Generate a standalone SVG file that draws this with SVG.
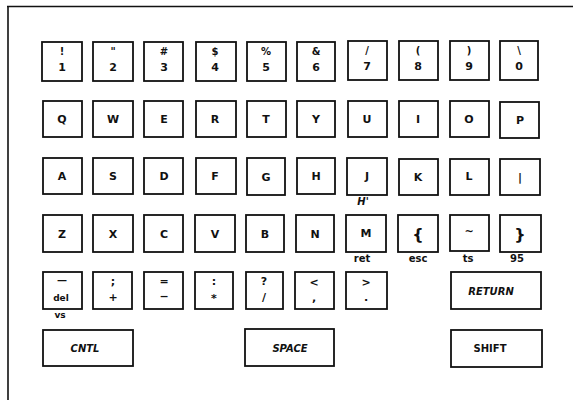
<svg xmlns="http://www.w3.org/2000/svg" width="573" height="400" viewBox="0 0 573 400">
<style>
.k{fill:#fff;stroke:#111;stroke-width:1.8}
text{font-family:"DejaVu Sans","Liberation Sans",sans-serif;font-size:10px;font-weight:bold;fill:#111;text-anchor:middle}
.b{font-size:11px}
.s{font-size:9px}
.i{font-style:italic}
</style>
<rect width="573" height="400" fill="#fff"/>
<g id="frame"><path d="M7 6.5H573M8 6V400" stroke="#111" stroke-width="1.6" fill="none"/></g>
<!-- Row 1 -->
<g id="k1"><rect class="k" x="42" y="42" width="40" height="39"/><text x="62" y="55">!</text><text x="62" y="71" class="b">1</text></g>
<g id="k2"><rect class="k" x="93" y="42" width="40" height="39"/><text x="113" y="55">"</text><text x="113" y="71" class="b">2</text></g>
<g id="k3"><rect class="k" x="144" y="42" width="39" height="39"/><text x="164" y="55">#</text><text x="164" y="71" class="b">3</text></g>
<g id="k4"><rect class="k" x="196" y="42" width="40" height="39"/><text x="215" y="55">$</text><text x="215" y="71" class="b">4</text></g>
<g id="k5"><rect class="k" x="247" y="42" width="39" height="39"/><text x="266" y="55">%</text><text x="266" y="71" class="b">5</text></g>
<g id="k6"><rect class="k" x="297" y="42" width="38" height="39"/><text x="316" y="55">&amp;</text><text x="316" y="71" class="b">6</text></g>
<g id="k7"><rect class="k" x="348" y="41" width="39" height="39"/><text x="367" y="54">/</text><text x="367" y="70" class="b">7</text></g>
<g id="k8"><rect class="k" x="399" y="41" width="39" height="39"/><text x="418" y="54">(</text><text x="418" y="70" class="b">8</text></g>
<g id="k9"><rect class="k" x="450" y="41" width="39" height="39"/><text x="469" y="54">)</text><text x="469" y="70" class="b">9</text></g>
<g id="k0"><rect class="k" x="500" y="41" width="38" height="39"/><text x="519" y="54">\</text><text x="519" y="70" class="b">0</text></g>
<!-- Row 2 -->
<g id="kQ"><rect class="k" x="43" y="101" width="39" height="36"/><text x="62" y="123" class="b">Q</text></g>
<g id="kW"><rect class="k" x="93" y="101" width="40" height="36"/><text x="113" y="123" class="b">W</text></g>
<g id="kE"><rect class="k" x="144" y="101" width="39" height="36"/><text x="164" y="123" class="b">E</text></g>
<g id="kR"><rect class="k" x="196" y="101" width="40" height="36"/><text x="215" y="123" class="b">R</text></g>
<g id="kT"><rect class="k" x="247" y="101" width="39" height="36"/><text x="266" y="123" class="b">T</text></g>
<g id="kY"><rect class="k" x="297" y="101" width="38" height="36"/><text x="316" y="123" class="b">Y</text></g>
<g id="kU"><rect class="k" x="348" y="101" width="39" height="36"/><text x="367" y="123" class="b">U</text></g>
<g id="kI"><rect class="k" x="399" y="101" width="39" height="36"/><text x="418" y="123" class="b">I</text></g>
<g id="kO"><rect class="k" x="450" y="101" width="39" height="36"/><text x="469" y="123" class="b">O</text></g>
<g id="kP"><rect class="k" x="500" y="102" width="39" height="36"/><text x="520" y="124" class="b">P</text></g>
<!-- Row 3 -->
<g id="kA"><rect class="k" x="43" y="158" width="39" height="36"/><text x="62" y="180" class="b">A</text></g>
<g id="kS"><rect class="k" x="93" y="158" width="40" height="36"/><text x="113" y="180" class="b">S</text></g>
<g id="kD"><rect class="k" x="144" y="158" width="39" height="36"/><text x="164" y="180" class="b">D</text></g>
<g id="kF"><rect class="k" x="196" y="158" width="40" height="36"/><text x="215" y="180" class="b">F</text></g>
<g id="kG"><rect class="k" x="247" y="158" width="38" height="37"/><text x="266" y="181" class="b">G</text></g>
<g id="kH"><rect class="k" x="297" y="158" width="38" height="36"/><text x="316" y="180" class="b">H</text></g>
<g id="kJ"><rect class="k" x="347" y="158" width="40" height="37"/><text x="367" y="180" class="b">J</text><text x="363" y="205" class="i">H'</text></g>
<g id="kK"><rect class="k" x="399" y="159" width="39" height="36"/><text x="418" y="181" class="b">K</text></g>
<g id="kL"><rect class="k" x="450" y="159" width="39" height="36"/><text x="469" y="180" class="b">L</text></g>
<g id="kBar"><rect class="k" x="500" y="159" width="40" height="36"/><text x="520" y="181" class="b">|</text></g>
<!-- Row 4 -->
<g id="kZ"><rect class="k" x="43" y="215" width="39" height="37"/><text x="62" y="238" class="b">Z</text></g>
<g id="kX"><rect class="k" x="93" y="215" width="40" height="37"/><text x="113" y="238" class="b">X</text></g>
<g id="kC"><rect class="k" x="144" y="215" width="39" height="37"/><text x="164" y="238" class="b">C</text></g>
<g id="kV"><rect class="k" x="195" y="215" width="40" height="37"/><text x="215" y="238" class="b">V</text></g>
<g id="kB"><rect class="k" x="246" y="215" width="38" height="37"/><text x="265" y="238" class="b">B</text></g>
<g id="kN"><rect class="k" x="296" y="215" width="38" height="37"/><text x="315" y="238" class="b">N</text></g>
<g id="kM"><rect class="k" x="346" y="215" width="40" height="37"/><text x="366" y="237" class="b">M</text><text x="362" y="262">ret</text></g>
<g id="kLb"><rect class="k" x="398" y="215" width="40" height="37"/><text x="418" y="240" class="b" style="font-size:16px">{</text><text x="418" y="262">esc</text></g>
<g id="kTl"><rect class="k" x="450" y="215" width="39" height="36"/><text x="469" y="235" class="b">~</text><text x="468" y="262">ts</text></g>
<g id="kRb"><rect class="k" x="500" y="215" width="41" height="37"/><text x="520" y="240" class="b" style="font-size:16px">}</text><text x="517" y="262">95</text></g>
<!-- Row 5 -->
<g id="kDel"><rect class="k" x="43" y="272" width="39" height="37"/><text x="62" y="284">—</text><text x="61" y="301" class="s">del</text><text x="60" y="318" class="s">vs</text></g>
<g id="kSemi"><rect class="k" x="93" y="272" width="39" height="37"/><text x="113" y="285" class="b">;</text><text x="113" y="301" class="b">+</text></g>
<g id="kEq"><rect class="k" x="144" y="272" width="39" height="37"/><text x="164" y="285" class="b">=</text><text x="164" y="300" class="b">−</text></g>
<g id="kColon"><rect class="k" x="195" y="272" width="38" height="37"/><text x="214" y="285" class="b">:</text><text x="214" y="302" class="b">*</text></g>
<g id="kQm"><rect class="k" x="246" y="272" width="37" height="37"/><text x="264" y="285" class="b">?</text><text x="264" y="301" class="b">/</text></g>
<g id="kLt"><rect class="k" x="295" y="272" width="39" height="37"/><text x="314" y="286" class="b">&lt;</text><text x="314" y="301" class="b">,</text></g>
<g id="kGt"><rect class="k" x="346" y="272" width="41" height="37"/><text x="366" y="286" class="b">&gt;</text><text x="366" y="301" class="b">.</text></g>
<g id="kReturn"><rect class="k" x="451" y="272" width="90" height="37"/><text x="491" y="295" class="i">RETURN</text></g>
<!-- Row 6 -->
<g id="kCntl"><rect class="k" x="43" y="330" width="90" height="36"/><text x="85" y="352" class="i">CNTL</text></g>
<g id="kSpace"><rect class="k" x="245" y="329" width="89" height="37"/><text x="290" y="352" class="i">SPACE</text></g>
<g id="kShift"><rect class="k" x="451" y="330" width="91" height="37"/><text x="490" y="352">SHIFT</text></g>
</svg>
